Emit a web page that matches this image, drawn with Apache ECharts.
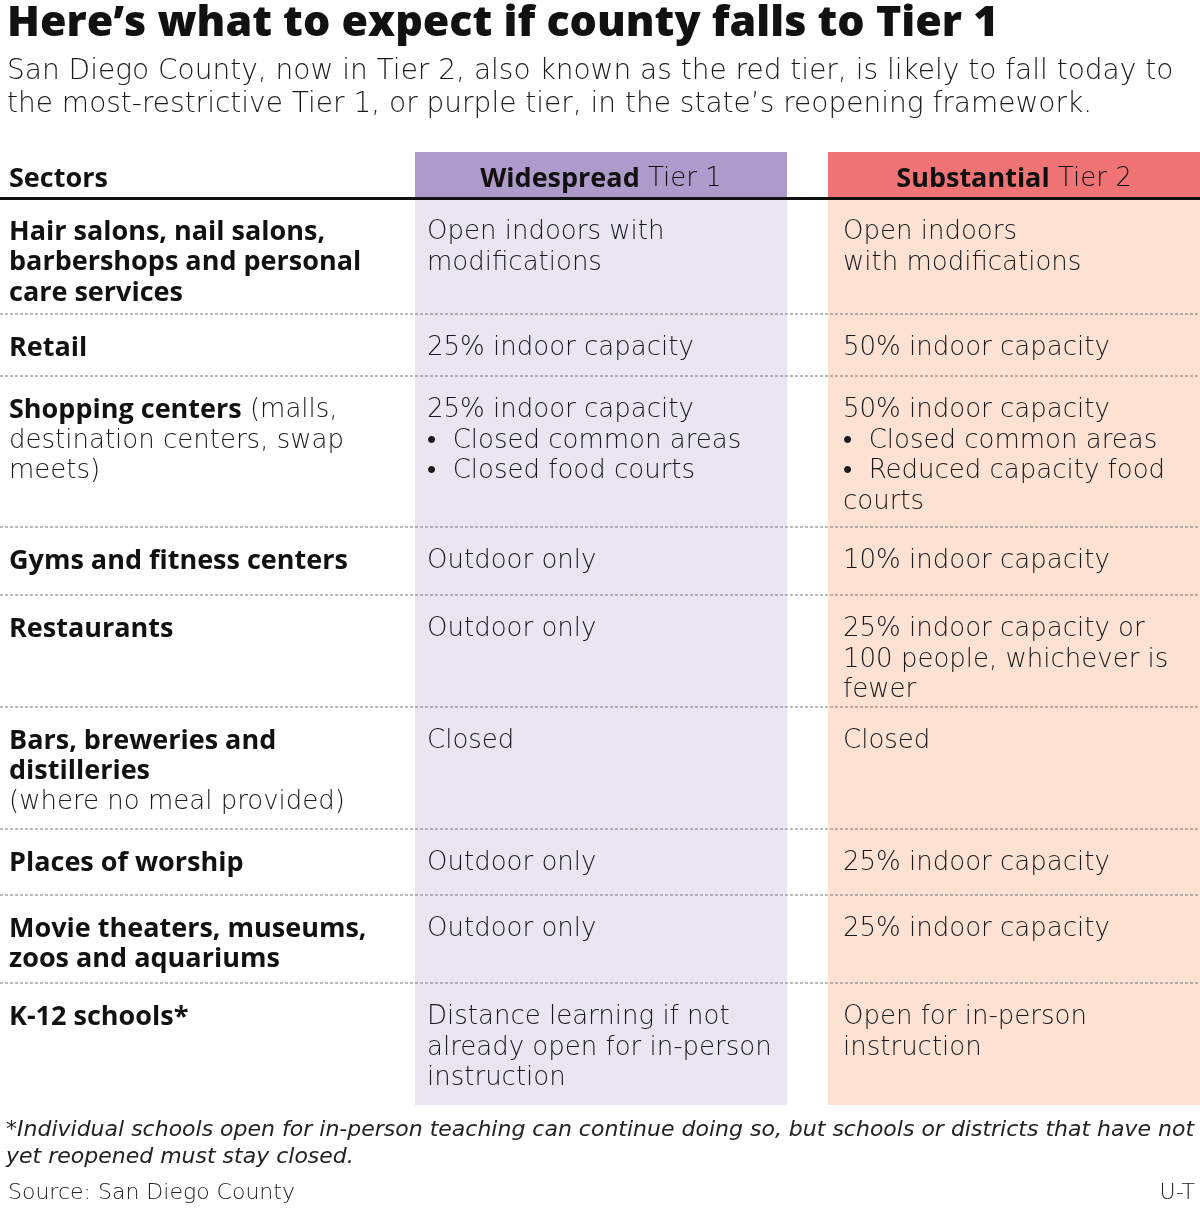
<![CDATA[<!DOCTYPE html><html><head><meta charset="utf-8">
<script src="https://cdn.jsdelivr.net/npm/echarts@6/dist/echarts.min.js"></script>
<style>html,body{margin:0;background:#fff}#c{width:1200px;height:1214px}</style></head><body><div id="c"></div>
<script>
const title = "Here’s what to expect if county falls to Tier 1";
const subtitle = ["San Diego County, now in Tier 2, also known as the red tier, is likely to fall today to","the most-restrictive Tier 1, or purple tier, in the state’s reopening framework."];
const headers = ["{b|Sectors}", "{b|Widespread} Tier 1", "{b|Substantial} Tier 2"];
const sectors = [
 "{b|Hair salons, nail salons,}\n{b|barbershops and personal}\n{b|care services}",
 "{b|Retail}",
 "{b|Shopping centers} (malls,\ndestination centers, swap\nmeets)",
 "{b|Gyms and fitness centers}",
 "{b|Restaurants}",
 "{b|Bars, breweries and}\n{b|distilleries}\n(where no meal provided)",
 "{b|Places of worship}",
 "{b|Movie theaters, museums,}\n{b|zoos and aquariums}",
 "{b|K-12 schools*}"];
const tier1 = [
 "Open indoors with\nmodifications",
 "25% indoor capacity",
 "25% indoor capacity\n•  Closed common areas\n•  Closed food courts",
 "Outdoor only","Outdoor only","Closed","Outdoor only","Outdoor only",
 "Distance learning if not\nalready open for in-person\ninstruction"];
const tier2 = [
 "Open indoors\nwith modifications",
 "50% indoor capacity",
 "50% indoor capacity\n•  Closed common areas\n•  Reduced capacity food\ncourts",
 "10% indoor capacity",
 "25% indoor capacity or\n100 people, whichever is\nfewer",
 "Closed","25% indoor capacity","25% indoor capacity",
 "Open for in-person\ninstruction"];
const rowTops = [198,314,376,527,595,707,829,895,983];
const tableEnd = 1105;
const footnote = ["*Individual schools open for in-person teaching can continue doing so, but schools or districts that have not","yet reopened must stay closed."];
const source = "Source: San Diego County";
const credit = "U-T";

const F = "'Open Sans', sans-serif";
const L = "'DejaVu Sans', sans-serif";
const g = [];
g.push({type:'text',x:7,y:24,style:{text:title,font:"800 43px "+F,fill:'#111',verticalAlign:'middle'}});
subtitle.forEach((s,i)=>g.push({type:'text',left:7,top:58+i*33,style:{text:s,font:"200 28px "+L,fill:'#1a1a1a'}}));
g.push({type:'rect',shape:{x:415,y:152,width:372,height:46},style:{fill:'#ae9acb'}});
g.push({type:'rect',shape:{x:828,y:152,width:372,height:46},style:{fill:'#f07476'}});
g.push({type:'rect',shape:{x:415,y:198,width:372,height:tableEnd-198},style:{fill:'#e9e6f2'}});
g.push({type:'rect',shape:{x:828,y:198,width:372,height:tableEnd-198},style:{fill:'#fde1d3'}});
const rich = {b:{fontWeight:'bold',fontSize:27,fontFamily:F,fill:'#111',lineHeight:30.5}};
g.push({type:'text',x:9,y:179,style:{text:headers[0],rich,verticalAlign:'middle',font:"200 26px "+L}});
[[601,headers[1]],[1014,headers[2]]].forEach(([x,t])=>g.push({type:'text',x,y:179,style:{text:t,rich,align:'center',verticalAlign:'middle',font:"200 26px "+L,fill:'#111'}}));
g.push({type:'line',shape:{x1:0,y1:198.5,x2:1200,y2:198.5},style:{stroke:'#111',lineWidth:3}});
rowTops.forEach((t,i)=>{
  if(i>0) g.push({type:'line',shape:{x1:0,y1:t,x2:1200,y2:t},style:{stroke:'#777',lineWidth:1,lineDash:[3,2]}});
  const base={font:"200 26px "+L,fill:'#1a1a1a',lineHeight:30.5,rich};
  g.push({type:'text',x:9,y:t+19,style:Object.assign({text:sectors[i]},base)});
  g.push({type:'text',x:427,y:t+19,style:Object.assign({},base,{text:tier1[i]})});
  g.push({type:'text',x:843,y:t+19,style:Object.assign({},base,{text:tier2[i]})});
});
footnote.forEach((s,i)=>g.push({type:'text',x:6,y:1119+i*27,style:{text:s,font:"italic 200 22px "+L,fill:'#222'}}));
g.push({type:'text',x:8,y:1182,style:{text:source,font:"200 22px "+L,fill:'#222'}});
g.push({type:'text',x:1195,y:1182,style:{text:credit,font:"200 22px "+L,fill:'#222',align:'right'}});
const ch=echarts.init(document.getElementById('c'));
ch.setOption({graphic:{elements:g}});
</script></body></html>]]>
